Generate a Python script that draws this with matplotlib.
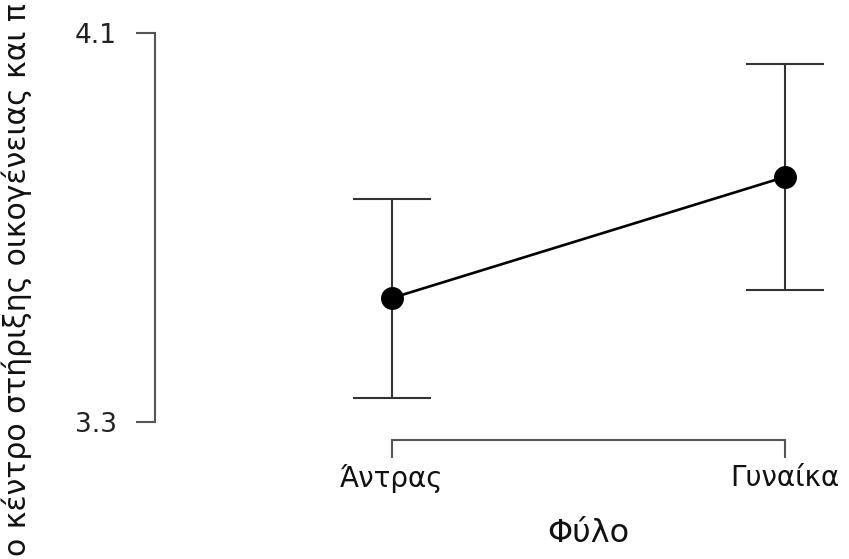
import matplotlib
matplotlib.use("Agg")
import matplotlib.pyplot as plt
from matplotlib.transforms import blended_transform_factory

# data
groups = ["Άντρας", "Γυναίκα"]
means = [3.555, 3.804]
ci_lower = [3.349, 3.571]
ci_upper = [3.759, 4.036]
y_ticks = [3.3, 4.1]
x_label = "Φύλο"
y_label = "ο κέντρο στήριξης οικογένειας και π"

plt.rcParams["font.family"] = ["DejaVu Sans"]

fig = plt.figure(figsize=(8.49, 5.59), dpi=100)
W, H = 849, 559
ax = fig.add_axes([155 / W, (H - 440) / H, (840 - 155) / W, (440 - 20) / H])

x = list(range(len(groups)))
yerr = [[m - lo for m, lo in zip(means, ci_lower)],
        [hi - m for m, hi in zip(means, ci_upper)]]
ax.errorbar(x, means, yerr=yerr, fmt="none", ecolor="#333333",
            elinewidth=1.5, capsize=28, capthick=1.5, zorder=2)
ax.plot(x, means, color="black", lw=1.9, marker="o", markersize=15.5,
        markerfacecolor="black", zorder=3)

ax.set_xlim((155 - 392) / 393, (840 - 392) / 393)
ax.set_ylim(3.3 - (440 - 422) / 486.25, 4.1 + (33 - 20) / 486.25)

for s in ["top", "right"]:
    ax.spines[s].set_visible(False)
ax.spines["left"].set_bounds(y_ticks[0], y_ticks[-1])
ax.spines["bottom"].set_bounds(0, 1)
for s in ["left", "bottom"]:
    ax.spines[s].set_color("#555555")
    ax.spines[s].set_linewidth(1.5)

ax.set_yticks(y_ticks)
ax.set_yticklabels([str(t) for t in y_ticks])
ax.set_xticks(x)
ax.set_xticklabels(groups)
ax.tick_params(axis="y", length=13.5, width=1.5, color="#555555", pad=14,
               labelsize=19, labelcolor="#222222")
ax.tick_params(axis="x", length=13, width=1.5, color="#555555", pad=4,
               labelsize=20, labelcolor="#111111")

ax.set_xlabel(x_label, fontsize=23, color="#111111", va="top")
ax.xaxis.set_label_coords(0.5, -(518 - 440) / 420,
                          transform=blended_transform_factory(ax.transData, ax.transAxes))

fig.text(17 / W, 0.5, y_label, rotation=90, ha="center", va="center",
         fontsize=21.5, color="#111111")

fig.savefig("out.png", dpi=100)
